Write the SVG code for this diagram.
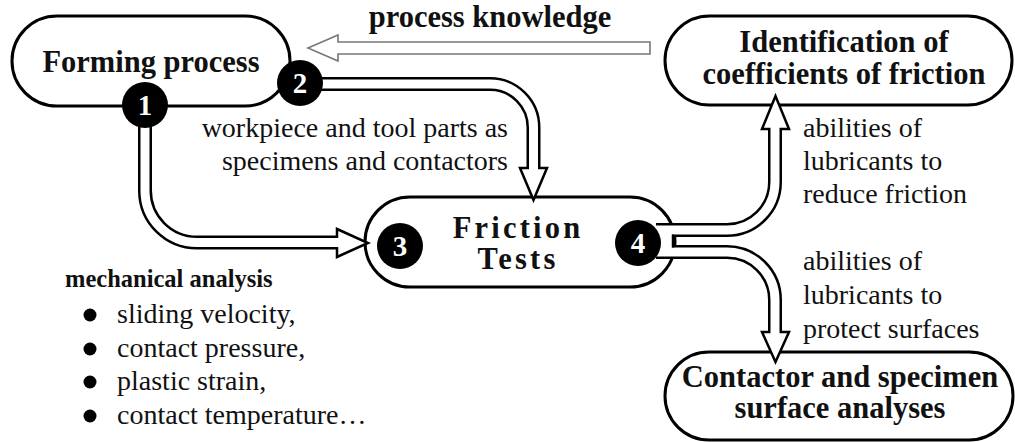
<svg xmlns="http://www.w3.org/2000/svg" width="1015" height="442" viewBox="0 0 1015 442" font-family="Liberation Serif, DejaVu Serif, serif">
<style>
.pill{fill:#fff;stroke:#000;stroke-width:3}
text{font-family:'Liberation Serif','DejaVu Serif',serif}
.t{fill:#111}
.b{font-weight:bold;font-size:30.5px}
.r{font-size:28px}
.outer{fill:none;stroke:#000;stroke-width:14}
.inner{fill:none;stroke:#fff;stroke-width:9}
.head{fill:#fff;stroke:#000;stroke-width:2.5;stroke-linejoin:miter}
.badge circle{fill:#000}
.badge text{font-weight:bold;font-size:29px;fill:#fff;text-anchor:middle}
</style>
<rect width="1015" height="442" fill="#fff"/>
<g id="forming">
<rect class="pill" x="12" y="16" width="278" height="90" rx="45"/>
<text class="t b" x="151" y="72" text-anchor="middle" font-size="31.5px">Forming process</text>
</g>
<g id="identification">
<rect class="pill" x="665" y="16" width="347" height="89" rx="44.5"/>
<text class="t b" x="844" y="51.5" text-anchor="middle">Identification of</text>
<text class="t b" x="844" y="84" text-anchor="middle">coefficients of friction</text>
</g>
<g id="friction">
<rect class="pill" x="365" y="197" width="310" height="90" rx="45"/>
<text class="t b" x="518" y="238" text-anchor="middle" letter-spacing="3.2">Friction</text>
<text class="t b" x="518" y="269" text-anchor="middle" letter-spacing="3.2">Tests</text>
</g>
<g id="contactor">
<rect class="pill" x="665" y="352" width="348" height="88" rx="44"/>
<text class="t b" x="840" y="387" text-anchor="middle" font-size="31px">Contactor and specimen</text>
<text class="t b" x="840" y="418" text-anchor="middle" font-size="31px">surface analyses</text>
</g>
<g id="connectors">
<polygon points="308,48 338,35 338,42 650,42 650,54 338,54 338,61" fill="#fff" stroke="#777" stroke-width="1.6"/>
<text class="t b" x="490" y="27" text-anchor="middle" font-size="31.5px">process knowledge</text>
<path class="outer" d="M145 118 V190 A52 52 0 0 0 197 242.5 H339"/>
<polygon class="head" points="337,229 368,243 337,257"/>
<path class="inner" d="M145 118 V190 A52 52 0 0 0 197 242.5 H340"/>
<path class="outer" d="M312 84 H490 A43.5 43.5 0 0 1 533.5 127.5 V170"/>
<polygon class="head" points="520,168 533.5,200 547,168"/>
<path class="inner" d="M312 84 H490 A43.5 43.5 0 0 1 533.5 127.5 V171"/>
<path class="outer" d="M656 230 H727 A48 48 0 0 0 775 182 V127"/>
<polygon class="head" points="762,129 775.5,96 789,129"/>
<path class="inner" d="M656 230 H727 A48 48 0 0 0 775 182 V126"/>
<path class="outer" d="M656 252 H727 A48 48 0 0 1 775 300 V334"/>
<polygon class="head" points="762,332 775.5,362 789,332"/>
<path class="inner" d="M656 252 H727 A48 48 0 0 1 775 300 V335"/>
<rect x="655" y="233" width="17" height="16" fill="#fff"/>
<line x1="673" y1="234.5" x2="673" y2="247.5" stroke="#000" stroke-width="2.5"/>
</g>
<g id="badge1" class="badge"><circle cx="145" cy="105" r="23"/><text x="145" y="115">1</text></g>
<g id="badge2" class="badge"><circle cx="300" cy="83" r="23"/><text x="300" y="93">2</text></g>
<g id="badge3" class="badge"><circle cx="400" cy="246" r="23"/><text x="400" y="256">3</text></g>
<g id="badge4" class="badge"><circle cx="638" cy="243" r="23"/><text x="638" y="253">4</text></g>
<g id="labels">
<text class="t r" x="508" y="137" text-anchor="end">workpiece and tool parts as</text>
<text class="t r" x="508" y="170" text-anchor="end">specimens and contactors</text>
<text class="t r" x="803" y="137">abilities of</text>
<text class="t r" x="803" y="170">lubricants to</text>
<text class="t r" x="803" y="203">reduce friction</text>
<text class="t r" x="803" y="270">abilities of</text>
<text class="t r" x="803" y="304">lubricants to</text>
<text class="t r" x="803" y="338">protect surfaces</text>
<text class="t" x="65" y="287" font-weight="bold" font-size="24.5px">mechanical analysis</text>
<circle cx="90" cy="315" r="6.5" fill="#000"/>
<circle cx="90" cy="349" r="6.5" fill="#000"/>
<circle cx="90" cy="382" r="6.5" fill="#000"/>
<circle cx="90" cy="416" r="6.5" fill="#000"/>
<text class="t r" x="117" y="323">sliding velocity,</text>
<text class="t r" x="117" y="357">contact pressure,</text>
<text class="t r" x="117" y="390">plastic strain,</text>
<text class="t r" x="117" y="424">contact temperature…</text>
</g>
</svg>
